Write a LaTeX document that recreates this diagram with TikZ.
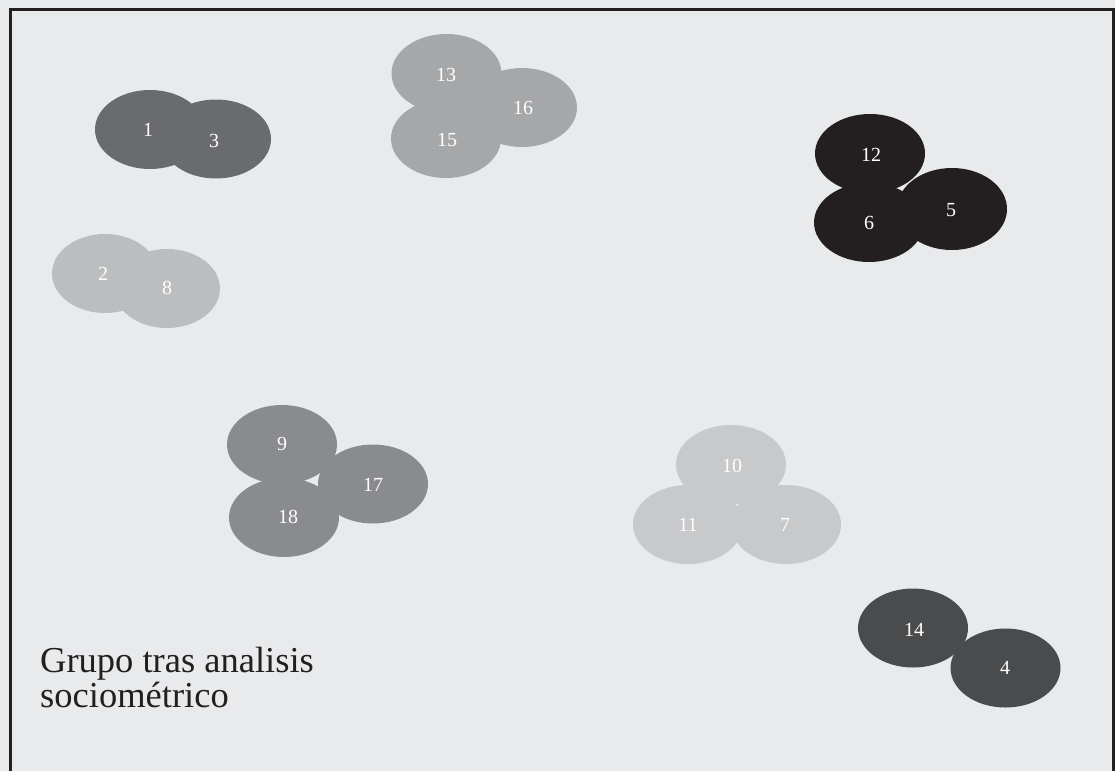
\documentclass[tikz,border=0pt]{standalone}
\usepackage{fontspec}
\setmainfont{Liberation Serif}
\usetikzlibrary{shapes.geometric}
\definecolor{bgc}{HTML}{E9EAEC}
\definecolor{framec}{HTML}{231F20}
\definecolor{gA}{HTML}{6A6B6E}
\definecolor{gB}{HTML}{BCBDBF}
\definecolor{gC}{HTML}{A6A7A9}
\definecolor{gD}{HTML}{231F20}
\definecolor{gE}{HTML}{8A8B8E}
\definecolor{gF}{HTML}{C8C9CB}
\definecolor{gG}{HTML}{4A4B4D}
\tikzset{
  blob/.style={ellipse, inner sep=0pt, minimum width=110pt, minimum height=79pt, draw=none},
  num/.style={text=white, inner sep=0pt, font=\fontsize{20}{24}\selectfont},
  ttl/.style={anchor=base west, inner sep=0pt, align=left, text=framec, font=\fontsize{36.5}{35}\selectfont}
}
\begin{document}
\begin{tikzpicture}[x=1pt,y=-1pt]
\useasboundingbox (0,0) rectangle (1115,771);
\fill[bgc] (0,0) rectangle (1115,771);
\draw[framec, line width=3pt] (10,771) -- (10,9.7) -- (1113.5,9.7) -- (1113.5,771);
% group 1-3
\node[blob, fill=gA] (e1) at (150,129.5) {};
\node[blob, fill=gA] (e3) at (216,139) {};
% group 2-8
\node[blob, fill=gB, minimum width=106pt] (e2) at (105,273.5) {};
\node[blob, fill=gB, minimum width=106pt] (e8) at (167,288.5) {};
% group 13-16-15
\node[blob, fill=gC] (e13) at (446.5,73.5) {};
\node[blob, fill=gC] (e15) at (446,138.5) {};
\node[blob, fill=gC] (e16) at (522,107.5) {};
% group 12-6-5
\node[blob, fill=gD] (e12) at (870,153.5) {};
\node[blob, fill=gD] (e6) at (869,222.5) {};
\node[blob, fill=gD, minimum height=82pt] (e5) at (952,209) {};
% group 9-17-18
\node[blob, fill=gE] (e9) at (282,444.5) {};
\node[blob, fill=gE] (e18) at (284,517.5) {};
\node[blob, fill=gE] (e17) at (373,484) {};
% group 10-11-7
\node[blob, fill=gF] (e10) at (731,464.5) {};
\node[blob, fill=gF] (e11) at (688,524.5) {};
\node[blob, fill=gF] (e7) at (786,524.5) {};
% group 14-4
\node[blob, fill=gG] (e14) at (913,628) {};
\node[blob, fill=gG] (e4) at (1005.5,668) {};
% labels
\node[num] (l1) at (148,130) {1};
\node[num] (l3) at (214,141) {3};
\node[num] (l2) at (103,274) {2};
\node[num] (l8) at (167,288) {8};
\node[num] (l13) at (446,75) {13};
\node[num] (l16) at (523,108) {16};
\node[num] (l15) at (447,140) {15};
\node[num] (l12) at (871,155) {12};
\node[num] (l6) at (869,223) {6};
\node[num] (l5) at (951,210) {5};
\node[num] (l9) at (282,444) {9};
\node[num] (l17) at (373,485) {17};
\node[num] (l18) at (288,517) {18};
\node[num] (l10) at (732,466) {10};
\node[num] (l11) at (688,525) {11};
\node[num] (l7) at (785,525) {7};
\node[num] (l14) at (914,630) {14};
\node[num] (l4) at (1005,668) {4};
% title
\node[ttl] (title) at (40,707) {Grupo tras analisis\\sociométrico};
\end{tikzpicture}
\end{document}
